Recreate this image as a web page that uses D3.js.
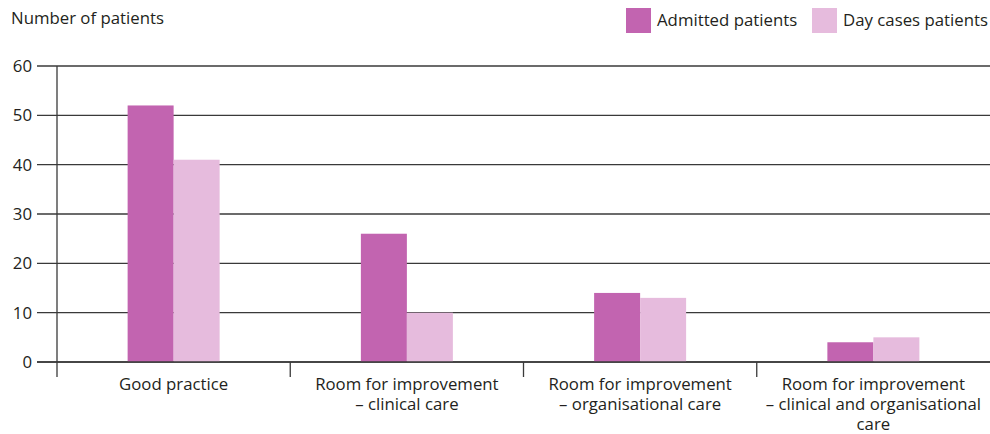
<!DOCTYPE html>
<html>
<head>
<meta charset="utf-8">
<script src="https://cdn.jsdelivr.net/npm/d3@7"></script>
<style>
  body { margin: 0; background: #fff; }
  text { font-family: "Open Sans", "Noto Sans", sans-serif; fill: #231f20; }
</style>
</head>
<body>
<div id="chart"></div>
<script>
// data
var categories = [
  ["Good practice"],
  ["Room for improvement", "\u2013 clinical care"],
  ["Room for improvement", "\u2013 organisational care"],
  ["Room for improvement", "\u2013 clinical and organisational", "care"]
];
var admitted = [52, 26, 14, 4];
var dayCases = [41, 10, 13, 5];
var seriesNames = ["Admitted patients", "Day cases patients"];
var yTicks = [0, 10, 20, 30, 40, 50, 60];

var width = 990, height = 434;
var margin = {top: 66, right: 0, bottom: 72, left: 57};
var colors = ["#c264b0", "#e6bbdd"];
var fontSize = "16.8px";

var svg = d3.select("#chart").append("svg")
    .attr("width", width)
    .attr("height", height);

var x = d3.scaleBand()
    .domain(d3.range(categories.length))
    .range([margin.left, width - margin.right]);

var x1 = d3.scaleBand()
    .domain([0, 1])
    .range([x.bandwidth() / 2 - 46, x.bandwidth() / 2 + 46]);

var y = d3.scaleLinear()
    .domain([0, 60])
    .range([height - margin.bottom, margin.top]);

// gridlines
svg.append("g")
  .selectAll("line")
  .data(yTicks)
  .enter().append("line")
    .attr("x1", 37)
    .attr("x2", width)
    .attr("y1", function(d) { return y(d); })
    .attr("y2", function(d) { return y(d); })
    .attr("stroke", "#3a3a3a")
    .attr("stroke-width", 1.3);

// y labels
svg.append("g")
  .selectAll("text")
  .data(yTicks)
  .enter().append("text")
    .attr("x", 32)
    .attr("y", function(d) { return y(d); })
    .attr("dy", "0.35em")
    .attr("text-anchor", "end")
    .style("font-size", fontSize)
    .text(function(d) { return d; });

// bars
var groups = svg.append("g")
  .selectAll("g")
  .data(categories)
  .enter().append("g")
    .attr("transform", function(d, i) { return "translate(" + x(i) + ",0)"; });

groups.selectAll("rect")
  .data(function(d, i) { return [admitted[i], dayCases[i]]; })
  .enter().append("rect")
    .attr("x", function(d, j) { return x1(j); })
    .attr("width", x1.bandwidth())
    .attr("y", function(d) { return y(d); })
    .attr("height", function(d) { return y(0) - y(d); })
    .attr("fill", function(d, j) { return colors[j]; });

// zero line over bars
svg.append("line")
    .attr("x1", 37).attr("x2", width)
    .attr("y1", y(0)).attr("y2", y(0))
    .attr("stroke", "#3a3a3a").attr("stroke-width", 1.3);

// y axis line
svg.append("line")
    .attr("x1", margin.left).attr("x2", margin.left)
    .attr("y1", y(60)).attr("y2", y(0) + 15)
    .attr("stroke", "#3a3a3a").attr("stroke-width", 1.3);

// category separators
svg.append("g")
  .selectAll("line")
  .data(d3.range(1, categories.length))
  .enter().append("line")
    .attr("x1", function(d) { return x(d); })
    .attr("x2", function(d) { return x(d); })
    .attr("y1", y(0))
    .attr("y2", y(0) + 15)
    .attr("stroke", "#3a3a3a").attr("stroke-width", 1.3);

// category labels
var labels = svg.append("g")
  .selectAll("text")
  .data(categories)
  .enter().append("text")
    .attr("text-anchor", "middle")
    .style("font-size", fontSize)
    .attr("transform", function(d, i) { return "translate(" + (x(i) + x.bandwidth() / 2) + "," + (y(0) + 28) + ")"; });

labels.selectAll("tspan")
  .data(function(d) { return d; })
  .enter().append("tspan")
    .attr("x", 0)
    .attr("y", function(d, k) { return k * 20; })
    .text(function(d) { return d; });

// y title
svg.append("text")
    .attr("x", 11)
    .attr("y", 24)
    .style("font-size", fontSize)
    .text("Number of patients");

// legend
var legendX = [626, 812];
var legend = svg.append("g")
  .selectAll("g")
  .data(seriesNames)
  .enter().append("g")
    .attr("transform", function(d, i) { return "translate(" + legendX[i] + ",8)"; });

legend.append("rect")
    .attr("width", 25)
    .attr("height", 25)
    .attr("fill", function(d, i) { return colors[i]; });

legend.append("text")
    .attr("x", 31)
    .attr("y", 12.5)
    .attr("dy", "0.35em")
    .style("font-size", fontSize)
    .text(function(d) { return d; });
</script>
</body>
</html>
